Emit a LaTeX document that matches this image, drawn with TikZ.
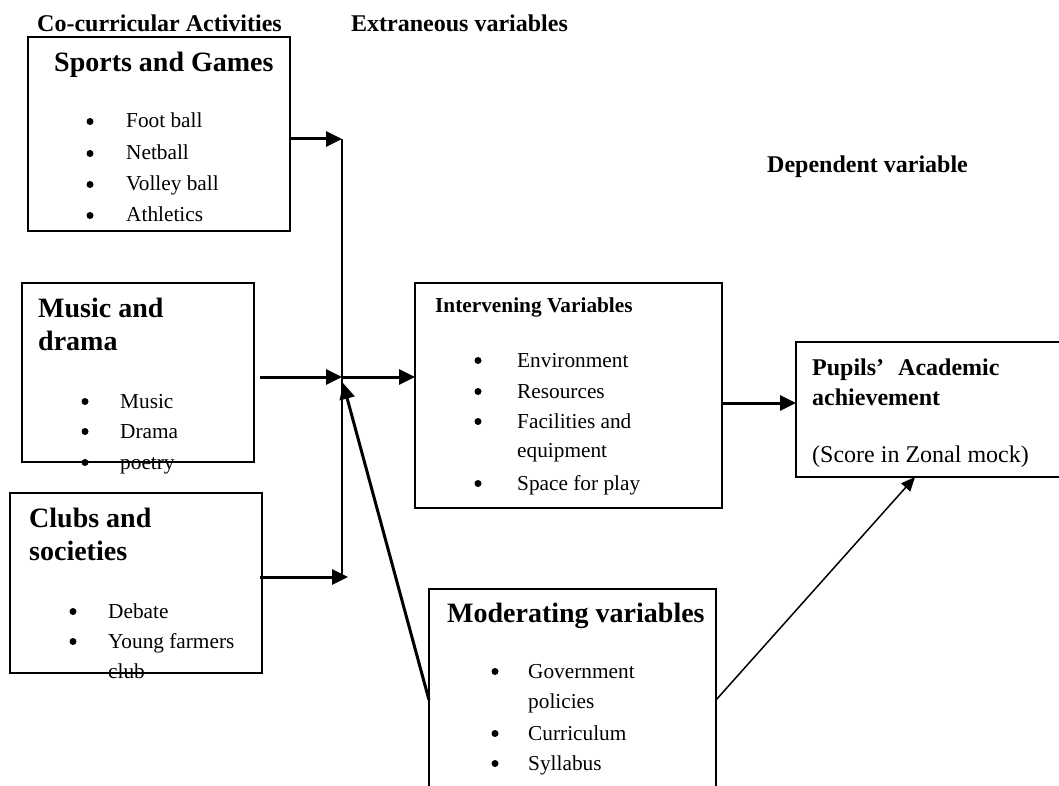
\documentclass[tikz,border=0pt]{standalone}
\usepackage{fontspec}
\setmainfont{Liberation Serif}
\usetikzlibrary{arrows.meta}
\tikzset{
  box/.style={draw, line width=1.6pt, anchor=north west, inner sep=0pt, outer sep=0pt},
  txt/.style={anchor=base west, inner sep=0pt, font=\fontsize{21.3}{25}\selectfont},
  txtl/.style={anchor=base west, inner sep=0pt, font=\fontsize{24}{28}\selectfont},
  hdr/.style={anchor=base west, inner sep=0pt, font=\fontsize{24}{28}\selectfont\bfseries},
  hdrs/.style={anchor=base west, inner sep=0pt, font=\fontsize{21.3}{25}\selectfont\bfseries},
  big/.style={anchor=base west, inner sep=0pt, font=\fontsize{28}{32}\selectfont\bfseries},
  dot/.style={circle, fill=black, inner sep=0pt, minimum size=7pt},
  conn/.style={line width=3pt, -{Triangle[length=16pt,width=15pt]}},
  vline/.style={line width=2.2pt},
  thinconn/.style={line width=1.5pt, -{Triangle[length=14pt,width=12pt]}}
}
\newcommand\myitem[5]{\node[dot] (#1b) at (#2,{#4-6.5}) {}; \node[txt] (#1) at (#3,#4) {#5};}
\begin{document}
\begin{tikzpicture}[x=1pt,y=-1pt]
\clip (0,0) rectangle (1059,786);
\fill[white] (0,0) rectangle (1059,786);
% boxes
\node[box, minimum width=262pt, minimum height=194pt] (sports) at (28,37) {};
\node[box, minimum width=232pt, minimum height=179pt] (music) at (22,283) {};
\node[box, minimum width=252pt, minimum height=180pt] (clubs) at (10,493) {};
\node[box, minimum width=307pt, minimum height=225pt] (interv) at (415,283) {};
\node[box, minimum width=275pt, minimum height=135pt] (pupils) at (796,342) {};
\node[box, minimum width=287pt, minimum height=230pt] (mod) at (429,589) {};
% headings
\node[hdr] (cocur) at (37,32) {Co-curricular Activities};
\node[hdr] (extr) at (351,32) {Extraneous variables};
\node[hdr] (dep) at (767,173) {Dependent variable};
% sports
\node[big] (sportsT) at (54,72) {Sports and Games};
\myitem{s1}{90}{126}{128}{Foot ball}
\myitem{s2}{90}{126}{160}{Netball}
\myitem{s3}{90}{126}{191}{Volley ball}
\myitem{s4}{90}{126}{222}{Athletics}
% music
\node[big] (musicT1) at (38,317) {Music and};
\node[big] (musicT2) at (38,350) {drama};
\myitem{m1}{85}{120}{408}{Music}
\myitem{m2}{85}{120}{438}{Drama}
\myitem{m3}{85}{120}{469}{poetry}
% clubs
\node[big] (clubsT1) at (29,527) {Clubs and};
\node[big] (clubsT2) at (29,560) {societies};
\myitem{c1}{73}{108}{618}{Debate}
\myitem{c2}{73}{108}{648}{Young farmers}
\node[txt] (c3) at (108,678) {club};
% intervening
\node[hdrs] (intervT) at (435,312) {Intervening Variables};
\myitem{i1}{478}{517}{367}{Environment}
\myitem{i2}{478}{517}{398}{Resources}
\myitem{i3}{478}{517}{428}{Facilities and}
\node[txt] (i3b2) at (517,457) {equipment};
\myitem{i4}{478}{517}{490}{Space for play}
% pupils
\node[hdr] (pupT1) at (812,375) {Pupils’\hspace{14pt}Academic};
\node[hdr] (pupT2) at (812,405) {achievement};
\node[txtl] (pupT3) at (812,462) {(Score in Zonal mock)};
% moderating
\node[big] (modT) at (447,622) {Moderating variables};
\myitem{d1}{495}{528}{678}{Government}
\node[txt] (d1b2) at (528,708) {policies};
\myitem{d2}{495}{528}{740}{Curriculum}
\myitem{d3}{495}{528}{770}{Syllabus}
% connectors
\coordinate (T) at (342,139);
\coordinate (J) at (342,377);
\coordinate (B) at (342,577);
\coordinate (Bt) at (348,577);
\coordinate (ms) at (260,377);
\coordinate (cs) at (260,577);
\coordinate (my) at (0,700);
\coordinate (P) at (0,403);
\coordinate (px) at (915,0);
\coordinate (Jt) at (343,383);
\draw[conn] (sports.east |- T) -- (T);
\draw[vline] (T) -- (B);
\draw[conn] (ms) -- (J);
\draw[conn] (J) -- (interv.west |- J);
\draw[conn] (cs) -- (Bt);
\draw[conn] (mod.west |- my) -- (Jt);
\draw[conn] (interv.east |- P) -- (pupils.west |- P);
\draw[thinconn] (mod.east |- my) -- (pupils.south -| px);
\end{tikzpicture}
\end{document}
